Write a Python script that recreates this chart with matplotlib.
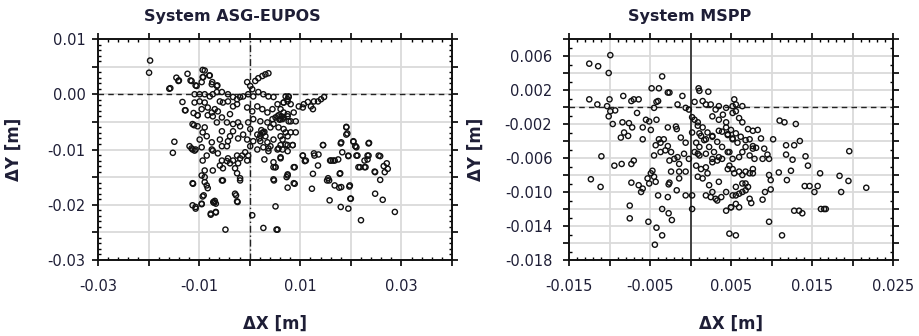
import numpy as np
import matplotlib
matplotlib.use("Agg")
import matplotlib.pyplot as plt
from matplotlib.ticker import FixedLocator, FixedFormatter, MultipleLocator

# ---------------- data (in millimetres) ----------------
asg_dx_mm = [
    -19.7, -19.9, -15.9, -14.5, -14.0, -13.3, -12.8, -12.3, -11.7, -10.7, -9.5, -8.9, -9.2, -8.0, -7.4, -6.4,
    -14.9, -15.2, -11.0, -11.5, -10.7, -11.2, -11.3, -10.7, -9.5, -9.1, -8.9, -8.5, -7.7, -6.7, -7.2, -7.0, -6.9,
    -4.8, -2.9, -2.4, -1.9, 0.5, 2.7, 5.3, 5.1, 4.8, 4.7, 2.9, 7.3, 7.5, 8.9, 8.9, 6.1, 10.5, 10.9, 12.3, 12.5,
    12.8, 13.6, 13.5, 14.5, 15.3, 15.8, 16.1, 16.5, 16.8, 17.5, 16.8, 17.8, 18.0, 18.1, 18.0, 18.3, 19.1, 19.3,
    19.5, 19.8, 19.5, 20.0, 20.5, 20.9, 21.3, 21.8, 22.0, 22.9, 23.3, 23.6, 23.3, 24.8, 24.8, 25.8, 25.8, 26.3,
    26.7, 27.3, 28.7,
    27.1, 26.5, 24.7, 25.5, 23.5, 22.7, 21.5, 22.7, 21.1, 19.5, 21.1, 17.9, 17.7, 19.7, 19.9, 15.5, 15.7,
    15.9, 12.7, 11.1, 10.5, 8.7, 7.5, 8.7, 6.1, 7.5, 8.5, 14.5,
    7.1, 7.7, 7.5, 6.7, 8.1, 9.7, 10.5, 10.7, 11.5, 12.1, 12.5, 12.7, 13.5, 14.1, 14.7,
    6.1, 6.7, 7.5, 8.7, 9.1, 8.1, 6.5, 19.1, 19.1, 18.1, 20.5, 20.9, 23.5,
    7.1, 8.1, 9.1, 6.5, 7.1, 8.5,
    -15.7, -14.1, -11.5, -10.5, -9.3, -9.3, -7.9, -7.5, -6.5, -12.7, -11.3, -10.3,
    -10.9, -9.9, -8.9, -7.9, -7.3, -6.5, -5.5, -4.3, -3.3, -2.5, -1.9, -1.3, -0.3,
    -10.9, -9.9, -8.9, -8.3, -9.5, -7.5, -6.9, -5.9, -5.3, -4.3, -3.3, -2.5,
    -11.1, -10.3, -8.3, -7.3, -6.3, -10.3, -8.9, -9.3, -8.5, -9.9,
    -5.5, -3.9, -5.9, -4.3, -3.3, -2.3, -4.5, -5.5, -7.5, -7.5, -9.5, -11.3, -11.9,
    -0.5, 0.1, 0.5, 1.1, 1.7, 2.5, 3.1, 3.7,
    0.7, 1.7, 2.7, 3.7, 4.7, 5.5, 6.7, 7.5, 7.7,
    -0.5, 0.5, 1.5, 2.5, 3.5, 4.5, 4.5, 5.5, 6.1, 6.7, 7.5, 7.7, 4.7, 3.5, 2.1, 0.7, -0.3,
    -1.9, 0.1, 1.5, 2.7, 4.1, 5.7, 6.7, 6.1, 7.5, 4.7, 3.5, 2.1, 0.7, -0.5, -1.3,
    0.1, 1.5, 2.7, 4.1, 5.5, 6.5, 7.5, 3.7,
    -6.5, -5.5, -4.5, -3.3, -2.3, -3.9,
    -10.9, -11.3, -8.3, -9.3, -9.5, -10.7, -7.1, -6.7, -7.7, -6.7,
    -2.7, -2.5, 4.7, 5.1, 5.5, 7.5, 4.7, 5.1, 6.1, 3.7, 5.7,
    -9.3, -8.5, -7.3, -6.3, -5.5, -4.5, -5.9, -5.3, -7.3, -8.9, -9.5, -8.9, -5.5, -5.3,
    -2.5, -1.9, -2.3, -2.9, -2.5, -1.9, -1.5, -0.9, -0.3, -0.5, -4.3, -3.9, -3.3,
    2.3, 2.5, 2.9, 2.1, 1.9, 3.1, 5.1, 5.7, 6.3, 5.9,
]
asg_dy_mm = [
    6.1, 3.9, 1.0, 3.0, 2.5, -1.4, -2.9, 3.7, 2.5, 1.6, 2.2, 4.3, 3.1, 3.4, 2.2, 1.6,
    -8.6, -10.6, -5.6, -9.8, -10.0, -16.2, -20.1, -20.4, -19.8, -18.3, -15.9, -16.5, -21.6, -21.3, -19.5, -19.6, -19.3,
    -24.5, -18.0, -19.5, -15.6, -21.9, -24.2, -24.5, -20.3, -15.6, -13.2, -11.8, -15.0, -16.9, -16.2, -13.2, -11.4, -11.1, -12.1, -17.1, -14.4,
    -11.1, -10.9, -12.9, -9.2, -15.6, -19.2, -12.0, -12.0, -12.0, -11.8, -16.5, -14.4, -8.9, -16.8, -20.4, -10.5, -5.9, -7.1,
    -11.1, -16.5, -20.7, -18.9, -8.6, -9.4, -11.1, -13.2, -22.8, -13.2, -11.1, -8.8, -11.8, -14.1, -18.0, -11.2, -15.5, -19.1,
    -14.1, -13.5, -21.3,
    -12.5, -13.0, -14.0, -11.1, -11.1, -12.0, -13.2, -13.2, -11.1, -11.2, -9.6, -14.3, -16.9, -16.7, -18.9, -15.2, -15.6,
    -12.0, -10.7, -12.0, -11.1, -13.2, -14.5, -16.1, -9.2, -9.2, -9.2, -9.2,
    -0.4, -0.5, -1.3, -1.5, -1.8, -2.2, -2.4, -1.8, -1.4, -2.2, -2.7, -1.3, -1.3, -0.9, -0.5,
    -2.7, -3.3, -4.0, -3.3, -4.9, -4.9, -4.5, -6.0, -7.3, -8.7, -8.5, -9.4, -8.9,
    -6.9, -6.9, -6.9, -8.2, -9.1, -9.2,
    1.1, 2.4, 2.4, 1.5, 4.4, 3.1, 3.4, 1.8, 1.5, -2.9, -5.4, -3.8,
    0.0, 0.0, 0.0, -0.4, 0.0, 0.4, 0.4, 0.0, -0.5, -0.9, -0.5, -0.4, 0.0,
    -1.5, -1.3, -1.5, -2.4, -2.7, -3.3, -2.7, -1.3, -1.5, -1.3, -2.2, -1.8,
    -3.4, -3.8, -3.8, -4.0, -3.1, -5.8, -6.0, -6.9, -7.6, -8.2,
    -6.7, -7.6, -8.2, -8.5, -6.7, -8.0, -9.4, -9.4, -8.7, -10.0, -9.6, -10.0, -9.4,
    2.2, 1.5, 0.9, 2.4, 2.9, 3.3, 3.6, 3.8,
    -0.4, 0.4, 0.0, -0.4, -0.5, -1.8, -1.5, -0.9, -0.4,
    -2.4, -3.1, -2.2, -2.7, -3.3, -2.7, -4.5, -4.0, -4.5, -4.2, -3.6, -4.9, -5.4, -5.1, -4.9, -4.5, -5.1,
    -5.8, -6.3, -7.3, -6.9, -6.0, -6.0, -6.3, -7.6, -7.6, -8.2, -8.7, -8.5, -8.5, -8.2, -7.3,
    -9.4, -10.0, -9.6, -9.4, -10.0, -10.0, -10.3, -10.3,
    -5.1, -4.2, -5.1, -5.4, -5.1, -3.6,
    -10.2, -16.1, -17.0, -18.5, -19.9, -20.7, -19.6, -19.8, -21.8, -21.4,
    -18.3, -19.4, -15.4, -13.2, -24.5, -14.7, -12.3, -13.2, -11.6, -9.8, -9.8,
    -12.0, -11.1, -10.2, -10.7, -12.0, -12.1, -12.9, -13.4, -13.8, -13.8, -14.7, -15.0, -15.6, -15.6,
    -11.1, -11.6, -12.5, -13.4, -14.3, -15.2, -11.1, -10.5, -11.1, -12.0, -11.6, -12.5, -12.0,
    -6.5, -7.0, -6.8, -7.5, -8.0, -7.6, -4.2, -3.8, -4.0, -4.6,
]

mspp_dx_mm = [
    -12.5, -11.4, -9.9, -10.1, -3.5, -12.5, -11.5,
    -10.3, -10.0, -9.9, -10.1, -9.6, -9.3,
    -8.3, -8.4, -8.6, -8.2, -7.7, -7.6, -7.3, -7.0, -6.4, -6.6, -7.2, -5.9, -5.9, -5.5, -5.1, -4.9, -4.2,
    -4.8, -3.9, -2.8, -2.6, -4.0, -4.5, -4.2,
    -2.8, -1.8, -1.7, -1.0, -0.6, -0.2, -1.6,
    1.0, 1.1, 2.2,
    0.5, 1.5, 1.9, 2.5, 3.1, 3.5, 4.4, 5.4, 5.6, 4.0, 5.2, 2.7, 3.5, 4.4,
    -3.9, -3.3, -3.7, -4.3, -2.8, -1.2, -0.6, 0.5, 0.9, 0.2, 1.3, 0.7, 1.9, 2.7, 3.5, 4.6, 5.2, 5.8,
    5.2, 5.6, 6.4, 6.0, 6.4,
    7.1, 7.7, 8.3, 8.7, 7.3, 7.7, 8.1,
    11.0, 11.6, 13.0, 10.2, 11.8, 12.8, 13.5, 19.6,
    11.8, 12.6, 14.2, 14.5, 12.4, 11.9, 10.9, 16.0,
    14.1, 14.7, 15.7, 15.3, 18.4, 19.5, 18.6, 21.7,
    16.1, 16.5, 16.7, 12.8, 13.4, 13.8, 11.3, 9.7,
    9.7, 9.9, 9.9, 9.2, 8.9, 4.8, 5.6,
    7.3, 7.5, 6.0, 5.0, 5.2, 5.6, 6.0, 6.4, 6.8, 7.1, 5.6, 6.4, 6.8,
    7.7, 7.3, 7.7, 6.8, 6.4, 6.0, 5.4, 5.2, 4.8,
    8.9, 9.7, 9.1, 9.5,
    7.9, 7.3, 7.7, 6.8, 6.4, 6.0, 5.2, 4.8,
    -11.0, -12.3, -11.1, -9.4, -8.5, -7.3, -7.0, -7.5, -7.5,
    -7.3, -6.4, -6.1, -5.9, -5.2, -4.2, -3.5, -4.4,
    -3.5, -2.7, -2.3, -4.0, -2.8, -1.7,
    -5.3, -4.9, -4.7, -4.5, -5.1, -4.3, -2.6, -2.7,
    -4.5, -3.7, -3.1, -2.4, -2.6, -2.0, -1.6, -1.4, -2.4, -1.4, -0.6, -1.4, -0.6, 0.2, 0.2,
    -0.8, -0.2, 0.5, 1.1, 0.7, 1.3, 1.9, 2.7, 3.3, 3.9, 4.6, 0.9, 1.5, 2.3, 2.7, 3.3, 4.4, 5.0, 5.6,
    1.9, 2.5, 3.1, 3.8, 0.9, 2.1, 3.5, 4.4,
    0.2, 0.9, 1.5, 2.1, 2.7, 3.3, 3.9, 4.6, 1.1, 1.7, 2.3, 2.9, 3.5, 1.1, 1.9, 2.7,
    4.4, 5.0, 5.6, 6.2, 6.8, 3.9, 4.6, 5.2,
]
mspp_dy_mm = [
    5.1, 4.8, 6.1, 4.0, 3.6, 0.9, 0.3,
    0.1, 0.9, -0.5, -1.1, -2.0, -0.4,
    1.3, -1.8, -3.6, -3.0, -3.4, -1.9, 0.7, 0.9, 0.9, -0.7, -2.4, -2.4, -3.8, -1.5, -1.7, -2.7, -1.5,
    2.2, 2.2, 1.7, 1.7, 0.7, -0.1, 0.6,
    -2.4, -2.3, -2.6, 1.3, -0.1, -0.3, 0.3,
    2.2, 1.9, 1.8,
    0.6, 0.7, 0.3, 0.3, -0.3, 0.1, -0.1, 0.9, 0.3, -0.9, -0.7, -1.1, -1.5, -1.8,
    -3.8, -3.8, -4.2, -4.5, -4.6, -3.6, -4.2, -1.5, -2.2, -3.0, -3.4, -4.2, -3.8, -3.4, -2.8, -3.2, -3.8, -4.2,
    0.1, -0.5, 0.1, -1.3, -1.8,
    -2.6, -2.8, -2.7, -3.7, -3.8, -4.6, -4.8,
    -1.6, -1.8, -2.0, -3.8, -4.5, -4.5, -4.0, -5.2,
    -5.6, -6.2, -5.8, -6.9, -7.5, -8.6, -7.7, -7.8,
    -9.3, -9.3, -9.3, -10.0, -8.1, -8.7, -10.0, -9.5,
    -12.0, -12.0, -12.0, -12.2, -12.2, -12.5, -15.1, -13.5,
    -8.0, -8.6, -9.7, -10.0, -10.9, -14.9, -15.1,
    -10.8, -11.3, -11.8, -11.8, -10.4, -10.4, -10.2, -10.0, -9.8, -9.4, -9.4, -9.0, -9.0,
    -7.3, -7.8, -7.8, -7.6, -8.0, -7.6, -7.8, -7.3, -6.9,
    -6.1, -6.1, -4.9, -5.6,
    -6.1, -5.7, -4.9, -4.7, -5.3, -5.9, -6.1, -5.3,
    -5.8, -8.5, -9.4, -6.9, -6.7, -6.7, -6.3, -11.6, -13.1,
    -8.9, -9.2, -10.0, -9.6, -13.5, -14.2, -15.1, -16.2,
    -12.0, -12.5, -13.3, -10.4, -10.6, -9.8,
    -8.4, -7.8, -7.5, -8.2, -9.0, -8.8, -8.9, -9.1,
    -5.7, -5.3, -5.1, -5.3, -6.3, -6.1, -5.9, -6.7, -7.6, -7.6, -7.6, -8.4, -10.4, -10.4, -12.0,
    -5.5, -6.1, -5.3, -5.7, -6.9, -7.3, -7.1, -6.5, -6.3, -6.1, -7.3, -8.2, -8.4, -9.2, -10.0, -11.0, -12.2, -11.8, -11.4,
    -10.4, -10.6, -10.8, -10.6, -5.5, -7.8, -8.8, -10.0,
    -1.2, -1.8, -2.4, -3.0, -3.5, -4.1, -4.7, -5.3, -3.1, -3.9, -4.7, -5.3, -5.9, -4.7, -5.5, -6.1,
    -2.4, -2.7, -3.1, -3.5, -3.9, -2.9, -3.3, -3.7,
]

# axis tick positions and labels
asg_xticks = [-0.03, -0.02, -0.01, 0.00, 0.01, 0.02, 0.03, 0.04]
asg_xticklabels = ["-0.03", "", "-0.01", "", "0.01", "", "0.03", ""]
asg_yticks = [-0.03, -0.025, -0.02, -0.015, -0.01, -0.005, 0.0, 0.005, 0.01]
asg_yticklabels = ["-0.03", "", "-0.02", "", "-0.01", "", "0.00", "", "0.01"]

mspp_xticks = [-0.015, -0.01, -0.005, 0.0, 0.005, 0.01, 0.015, 0.02, 0.025]
mspp_xticklabels = ["-0.015", "", "-0.005", "", "0.005", "", "0.015", "", "0.025"]
mspp_yticks = [-0.018, -0.016, -0.014, -0.012, -0.010, -0.008, -0.006, -0.004,
               -0.002, 0.0, 0.002, 0.004, 0.006, 0.008]
mspp_yticklabels = ["-0.018", "", "-0.014", "", "-0.010", "", "-0.006", "",
                    "-0.002", "", "0.002", "", "0.006", ""]

titles = ["System ASG-EUPOS", "System MSPP"]
xlabel = "ΔX [m]"
ylabel = "ΔY [m]"

# ---------------- drawing ----------------
plt.rcParams['font.family'] = ['DejaVu Sans']
TXT = "#1e1e36"

fig = plt.figure(figsize=(9.2, 3.36), dpi=100)
ax1 = fig.add_axes([98 / 920, 76 / 336, 354 / 920, 221 / 336])
ax2 = fig.add_axes([569 / 920, 76 / 336, 324 / 920, 221 / 336])


def style(ax, xt, xtl, yt, ytl, xlim, ylim, xminor, yminor, ypad, ylab_x):
    ax.set_xlim(*xlim)
    ax.set_ylim(*ylim)
    ax.xaxis.set_major_locator(FixedLocator(xt))
    ax.xaxis.set_major_formatter(FixedFormatter(xtl))
    ax.yaxis.set_major_locator(FixedLocator(yt))
    ax.yaxis.set_major_formatter(FixedFormatter(ytl))
    ax.xaxis.set_minor_locator(MultipleLocator(xminor))
    ax.yaxis.set_minor_locator(MultipleLocator(yminor))
    ax.grid(True, which='major', color='#dadada', linewidth=1.3, zorder=0)
    ax.set_axisbelow(True)
    for s in ax.spines.values():
        s.set_linewidth(1.4)
        s.set_color('#111111')
    ax.tick_params(which='major', direction='out', length=4, width=1.2,
                   labelsize=10.5, labelcolor=TXT, top=True, right=True)
    ax.tick_params(axis='x', which='major', pad=10)
    ax.tick_params(axis='y', which='major', pad=ypad)
    ax.tick_params(which='minor', direction='in', length=2.5, width=1.0,
                   top=True, right=True)
    ax.set_xlabel(xlabel, fontsize=12, fontweight='bold', color=TXT)
    ax.set_ylabel(ylabel, fontsize=12, fontweight='bold', color=TXT)
    ax.xaxis.set_label_coords(0.5, -0.25)
    ax.yaxis.set_label_coords(ylab_x, 0.5)


style(ax1, asg_xticks, asg_xticklabels, asg_yticks, asg_yticklabels,
      (-0.03, 0.04), (-0.03, 0.01), 0.002, 0.001, 5, -0.212)
style(ax2, mspp_xticks, mspp_xticklabels, mspp_yticks, mspp_yticklabels,
      (-0.015, 0.025), (-0.018, 0.008), 0.001, 0.001, 8, -0.259)

ax1.axhline(0, color='#222222', linewidth=1.0, linestyle=(0, (4, 3)), zorder=1)
ax1.axvline(0, color='#222222', linewidth=1.0, linestyle=(0, (5, 2, 1, 2)), zorder=1)
ax2.axhline(0, color='#222222', linewidth=1.0, linestyle=(0, (4, 3)), zorder=1)
ax2.axvline(0, color='#333333', linewidth=1.3, zorder=1)

ax1.scatter(np.array(asg_dx_mm) / 1000, np.array(asg_dy_mm) / 1000, s=14,
            facecolors='none', edgecolors='#111111', linewidths=1.0, zorder=3)
ax2.scatter(np.array(mspp_dx_mm) / 1000, np.array(mspp_dy_mm) / 1000, s=14,
            facecolors='none', edgecolors='#111111', linewidths=1.0, zorder=3)

fig.text(232 / 920, 1 - 16 / 336, titles[0], ha='center', va='center',
         fontsize=11.5, fontweight='bold', color=TXT)
fig.text(690 / 920, 1 - 16 / 336, titles[1], ha='center', va='center',
         fontsize=11.5, fontweight='bold', color=TXT)

fig.savefig("out.png", dpi=100)
